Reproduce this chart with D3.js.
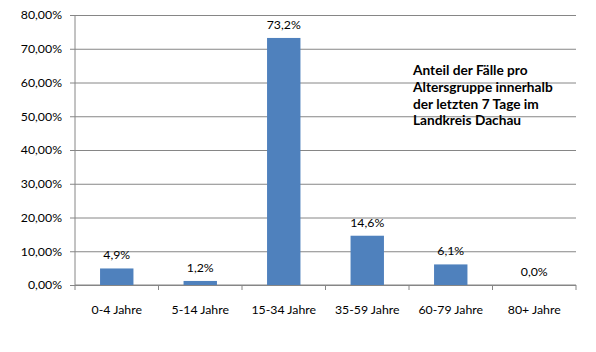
<!DOCTYPE html>
<html>
<head>
<meta charset="utf-8">
<script src="https://cdn.jsdelivr.net/npm/d3@7/dist/d3.min.js"></script>
<style>
  body { margin: 0; background: #fff; }
  svg text { font-family: Lato, "Open Sans", sans-serif; fill: #000; }
</style>
</head>
<body>
<svg id="chart" width="596" height="352"></svg>
<script>
const categories = ["0-4 Jahre", "5-14 Jahre", "15-34 Jahre", "35-59 Jahre", "60-79 Jahre", "80+ Jahre"];
const shares = [4.9, 1.2, 73.2, 14.6, 6.1, 0.0];
const yTicks = [0, 10, 20, 30, 40, 50, 60, 70, 80];
const titleLines = ["Anteil der Fälle pro", "Altersgruppe innerhalb", "der letzten 7 Tage im", "Landkreis Dachau"];

const svg = d3.select("#chart");
const margin = { top: 15, right: 20, bottom: 67, left: 75 };
const width = 596 - margin.left - margin.right;
const height = 352 - margin.top - margin.bottom;

const x = d3.scaleBand().domain(categories).range([0, width]).paddingInner(0.6).paddingOuter(0.3);
const y = d3.scaleLinear().domain([0, 80]).range([height, 0]);

const g = svg.append("g").attr("transform", "translate(" + margin.left + "," + margin.top + ")");

const fmt = (v) => v.toFixed(2).replace(".", ",") + "%";

// grid lines + y axis
g.append("g")
  .call(d3.axisLeft(y).tickValues(yTicks).tickSize(-width - 5).tickFormat(fmt))
  .call((a) => a.select(".domain").remove())
  .call((a) => a.selectAll(".tick line").attr("stroke", "#868686").attr("x1", -5).attr("x2", width))
  .call((a) => a.selectAll(".tick text").style("font-size", "12.3px").attr("x", -13));

g.append("line")
  .attr("x1", 0).attr("x2", 0).attr("y1", 0).attr("y2", height)
  .attr("stroke", "#868686");

// x axis
const xAxis = g.append("g").attr("transform", "translate(0," + height + ")");
xAxis.append("line").attr("x1", 0).attr("x2", width).attr("stroke", "#868686");
const step = width / categories.length;
xAxis.selectAll(".sep")
  .data(d3.range(categories.length + 1))
  .join("line")
  .attr("x1", (i) => i * step).attr("x2", (i) => i * step)
  .attr("y1", 0).attr("y2", 5)
  .attr("stroke", "#868686");
xAxis.selectAll(".lbl")
  .data(categories)
  .join("text")
  .attr("x", (d) => x(d) + x.bandwidth() / 2)
  .attr("y", 29)
  .attr("text-anchor", "middle")
  .style("font-size", "12.3px")
  .text((d) => d);

// bars
g.selectAll(".bar")
  .data(shares)
  .join("rect")
  .attr("x", (d, i) => x(categories[i]))
  .attr("y", (d) => y(d))
  .attr("width", x.bandwidth())
  .attr("height", (d) => height - y(d))
  .attr("fill", "#4F81BD");

g.selectAll(".val")
  .data(shares)
  .join("text")
  .attr("x", (d, i) => x(categories[i]) + x.bandwidth() / 2)
  .attr("y", (d) => y(d) - 9)
  .attr("text-anchor", "middle")
  .style("font-size", "12.3px")
  .text((d) => d.toFixed(1).replace(".", ",") + "%");

// title box
svg.append("g")
  .selectAll("text")
  .data(titleLines)
  .join("text")
  .attr("x", 413)
  .attr("y", (d, i) => 75 + i * 16.8)
  .style("font-size", "13.7px")
  .style("font-weight", "bold")
  .text((d) => d);
</script>
</body>
</html>
